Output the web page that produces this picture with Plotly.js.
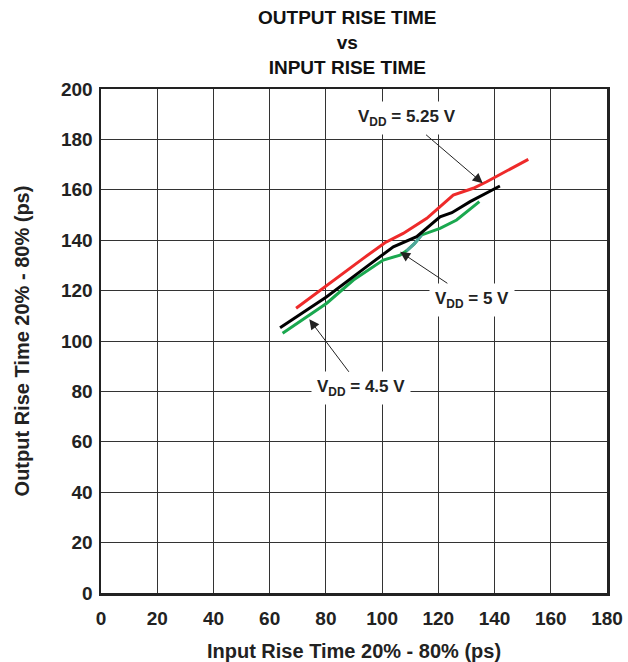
<!DOCTYPE html>
<html>
<head>
<meta charset="utf-8">
<script src="https://cdn.plot.ly/plotly-3.0.1.min.js"></script>
<style>html,body{margin:0;padding:0;background:#fff;}#chart{width:628px;height:662px;}</style>
</head>
<body>
<div id="chart"></div>
<script>
// Input rise time (ps) vs output rise time (ps)
const red525X = [69.4, 80.3, 93.3, 101.0, 107.5, 115.9, 119.4, 125.3, 132.4, 137.2, 152.0];
const red525Y = [113.0, 122.2, 132.8, 139.0, 142.7, 148.7, 152.0, 157.9, 160.6, 163.2, 172.1];

const black5X = [63.7, 80.3, 94.5, 104.0, 112.3, 120.6, 124.8, 131.3, 141.9];
const black5Y = [105.3, 117.6, 129.5, 137.4, 141.4, 149.3, 150.9, 155.3, 161.5];

const green45X = [64.6, 80.3, 89.8, 100.4, 106.4, 108.7, 111.5, 114.1, 120.6, 126.5, 134.6];
const green45Y = [103.1, 115.0, 124.2, 132.1, 134.1, 135.8, 138.6, 142.1, 144.7, 148.0, 155.3];

const tealX = [108.7, 111.5, 114.1];
const tealY = [135.8, 138.6, 142.1];

const xTicks = [0, 20, 40, 60, 80, 100, 120, 140, 160, 180];
const yTicks = [0, 20, 40, 60, 80, 100, 120, 140, 160, 180, 200];

const FONT = 'Liberation Sans, Arial, Helvetica, sans-serif';

const traces = [
  {x: green45X, y: green45Y, mode: 'lines', line: {color: '#1aa84f', width: 3}, name: 'VDD = 4.5 V', showlegend: false},
  {x: tealX, y: tealY, mode: 'lines', line: {color: '#4fa79c', width: 3}, showlegend: false},
  {x: red525X, y: red525Y, mode: 'lines', line: {color: '#ee2a2a', width: 3}, name: 'VDD = 5.25 V', showlegend: false},
  {x: black5X, y: black5Y, mode: 'lines', line: {color: '#000000', width: 3}, name: 'VDD = 5 V', showlegend: false}
];

const annFont = {family: FONT, size: 17, color: '#222', weight: 'bold'};
const arrowCommon = {showarrow: true, arrowhead: 2, arrowsize: 2, arrowwidth: 1, arrowcolor: '#222',
  bgcolor: '#ffffff', borderpad: 5, font: annFont, xref: 'x', yref: 'y', axref: 'pixel', ayref: 'pixel'};

const layout = {
  width: 628, height: 662,
  margin: {l: 101, r: 21, t: 89, b: 69},
  paper_bgcolor: '#ffffff', plot_bgcolor: '#ffffff',
  font: {family: FONT, color: '#222'},
  title: {
    text: 'OUTPUT RISE TIME<br>vs<br>INPUT RISE TIME',
    font: {family: FONT, size: 19, color: '#111', weight: 'bold'},
    x: 0.553, xanchor: 'center', yref: 'container', y: 0.963, yanchor: 'middle'
  },
  xaxis: {
    range: [0, 180], tickvals: xTicks, ticktext: xTicks.map(String),
    showgrid: true, gridcolor: '#333', gridwidth: 1,
    showline: true, linecolor: '#222', linewidth: 2.5, mirror: true,
    zeroline: false, ticks: '', ticklabelstandoff: 7,
    tickfont: {family: FONT, size: 19, color: '#222', weight: 'bold'},
    title: {text: 'Input Rise Time 20% - 80% (ps)', font: {family: FONT, size: 20, color: '#222', weight: 'bold'}, standoff: 16}
  },
  yaxis: {
    range: [0, 200], tickvals: yTicks, ticktext: yTicks.map(String),
    showgrid: true, gridcolor: '#333', gridwidth: 1,
    showline: true, linecolor: '#222', linewidth: 2.5, mirror: true,
    zeroline: false, ticks: '', ticklabelstandoff: 2,
    tickfont: {family: FONT, size: 19, color: '#222', weight: 'bold'},
    title: {text: 'Output Rise Time 20% - 80% (ps)', font: {family: FONT, size: 20, color: '#222', weight: 'bold'}, standoff: 26}
  },
  annotations: [
    Object.assign({}, arrowCommon, {text: 'V<sub>DD</sub> = 5.25 V', x: 135.8, y: 162.6, ax: -76, ay: -65}),
    Object.assign({}, arrowCommon, {text: 'V<sub>DD</sub> = 5 V', x: 106.4, y: 135.4, ax: 72, ay: 48}),
    Object.assign({}, arrowCommon, {text: 'V<sub>DD</sub> = 4.5 V', x: 74.1, y: 108.6, ax: 52, ay: 69})
  ],
  showlegend: false
};

Plotly.newPlot('chart', traces, layout, {displayModeBar: false, staticPlot: true});
</script>
</body>
</html>
